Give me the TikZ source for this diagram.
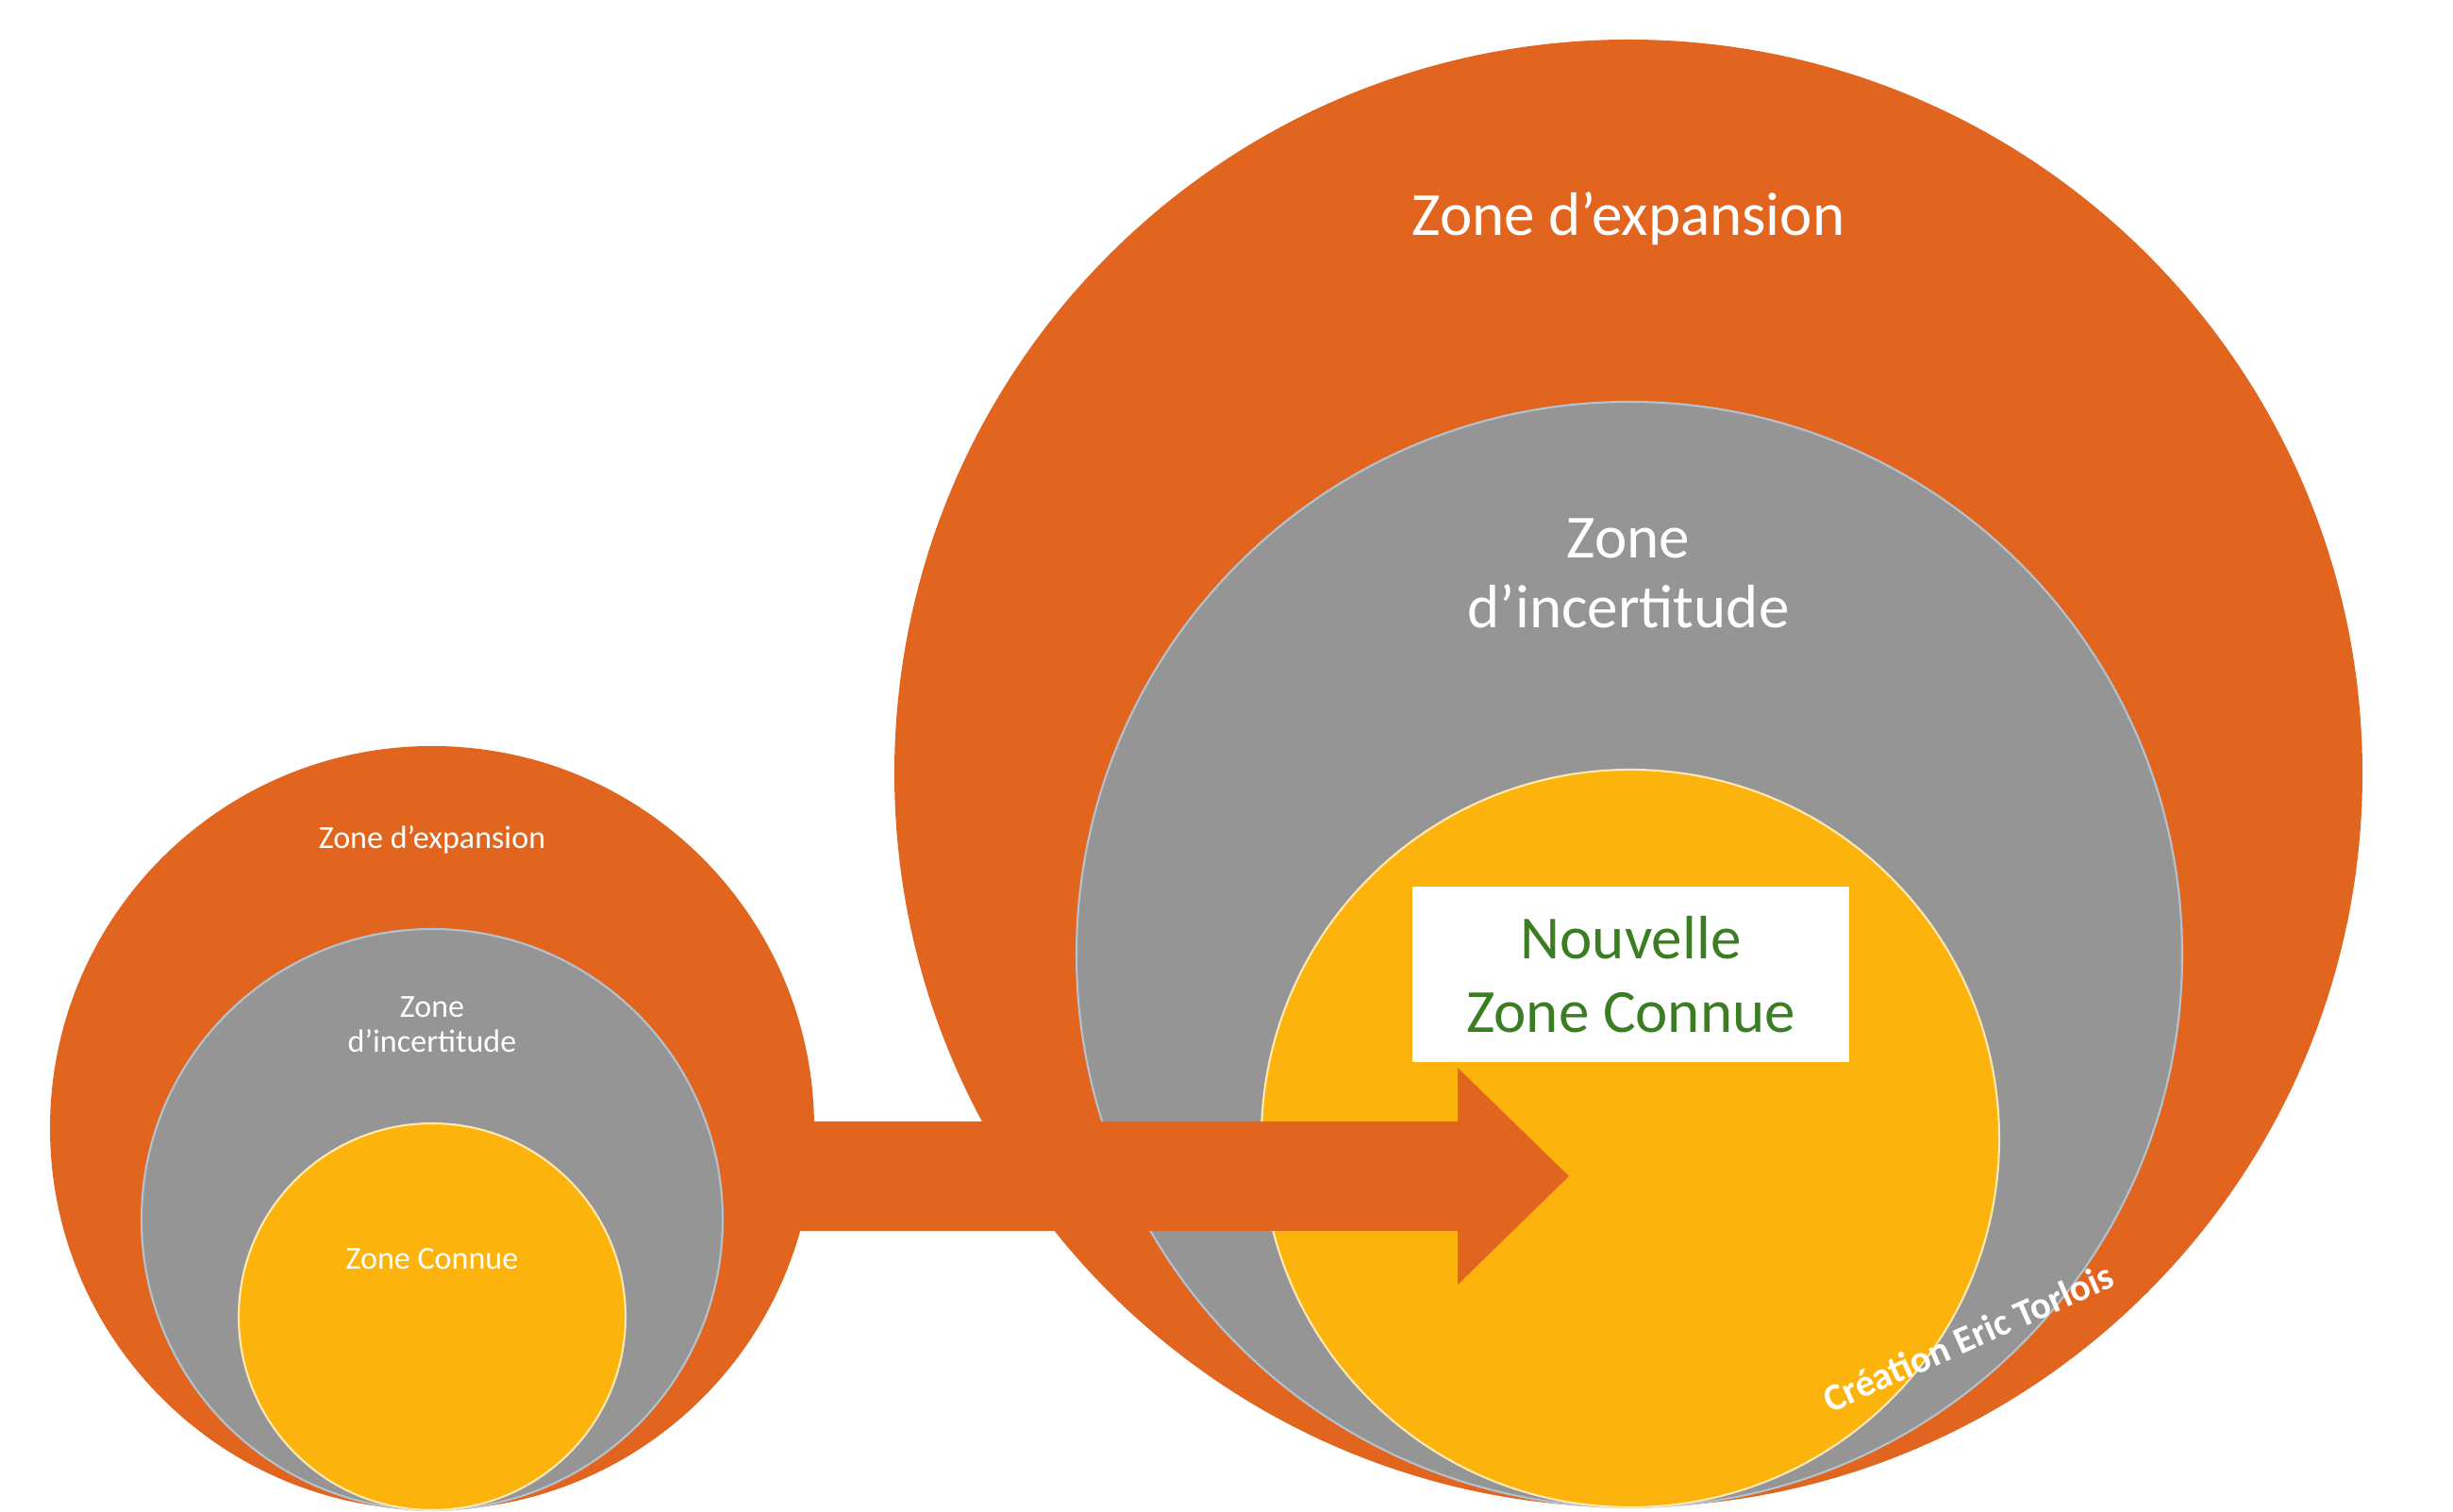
\documentclass[tikz,border=0pt]{standalone}
\usepackage{fontspec}
\setmainfont{Carlito}
\usetikzlibrary{positioning,calc}
\definecolor{zorange}{HTML}{E2651F}
\definecolor{zgrey}{HTML}{959595}
\definecolor{zyellow}{HTML}{FCB40C}
\definecolor{zgreen}{HTML}{3B7D23}
\definecolor{zrim}{HTML}{B4C2CF}

\begin{document}
\begin{tikzpicture}[
    zone/.style={circle, inner sep=0pt, minimum size=#1},
    bigtxt/.style={text=white, align=center, font=\fontsize{18.5}{21}\selectfont},
    smalltxt/.style={text=white, align=center, font=\fontsize{9.7}{10.4}\selectfont}
]
    \useasboundingbox (0,0) rectangle (26,16.03);

    % Small circles
    \node[zone=8.10cm, fill=zorange] (smallexp) at (4.58,4.07) {};
    \node[zone=6.16cm, fill=zgrey, draw=zrim, line width=0.6pt] (smallinc) at (4.58,3.10) {};
    \node[zone=4.10cm, fill=zyellow, draw=white!70!zyellow, line width=0.6pt] (smallknown) at (4.58,2.07) {};

    % Big circles
    \node[zone=15.56cm, fill=zorange] (bigexp) at (17.26,7.83) {};
    \node[zone=11.72cm, fill=zgrey, draw=zrim, line width=0.6pt] (biginc) at (17.27,5.91) {};
    \node[zone=7.82cm, fill=zyellow, draw=white!70!zyellow, line width=0.6pt] (bigknown) at (17.28,3.96) {};

    % Arrow
    \coordinate (arrowtail) at (8.3,3.56);
    \coordinate (arrowtip) at (16.63,3.56);
    \fill[zorange] ($(arrowtail)+(0,0.58)$) -- ($(arrowtip)+(-1.18,0.58)$)
        -- ($(arrowtip)+(-1.18,1.15)$) -- (arrowtip) -- ($(arrowtip)+(-1.18,-1.15)$)
        -- ($(arrowtip)+(-1.18,-0.58)$) -- ($(arrowtail)+(0,-0.58)$) -- cycle;

    % Labels
    \node[smalltxt] (smallexplbl) at (4.58,7.13) {Zone d’expansion};
    \node[smalltxt] (smallinclbl) at (4.58,5.17) {Zone\\d’incertitude};
    \node[smalltxt] (smallknownlbl) at (4.58,2.68) {Zone Connue};

    \node[bigtxt] (bigexplbl) at (17.26,13.71) {Zone d’expansion};
    \node[bigtxt] (biginclbl) at (17.26,9.95) {Zone\\d’incertitude};
    \node[fill=white, minimum width=4.63cm, minimum height=1.86cm, text=zgreen,
        align=center, font=\fontsize{18.5}{22.2}\selectfont] (newknown) at (17.285,5.70)
        {Nouvelle\\Zone Connue};

    \node[text=white, rotate=24, font=\bfseries\fontsize{11.5}{13}\selectfont] (credit)
        at (20.86,1.85) {Création Eric Torlois};
\end{tikzpicture}
\end{document}
